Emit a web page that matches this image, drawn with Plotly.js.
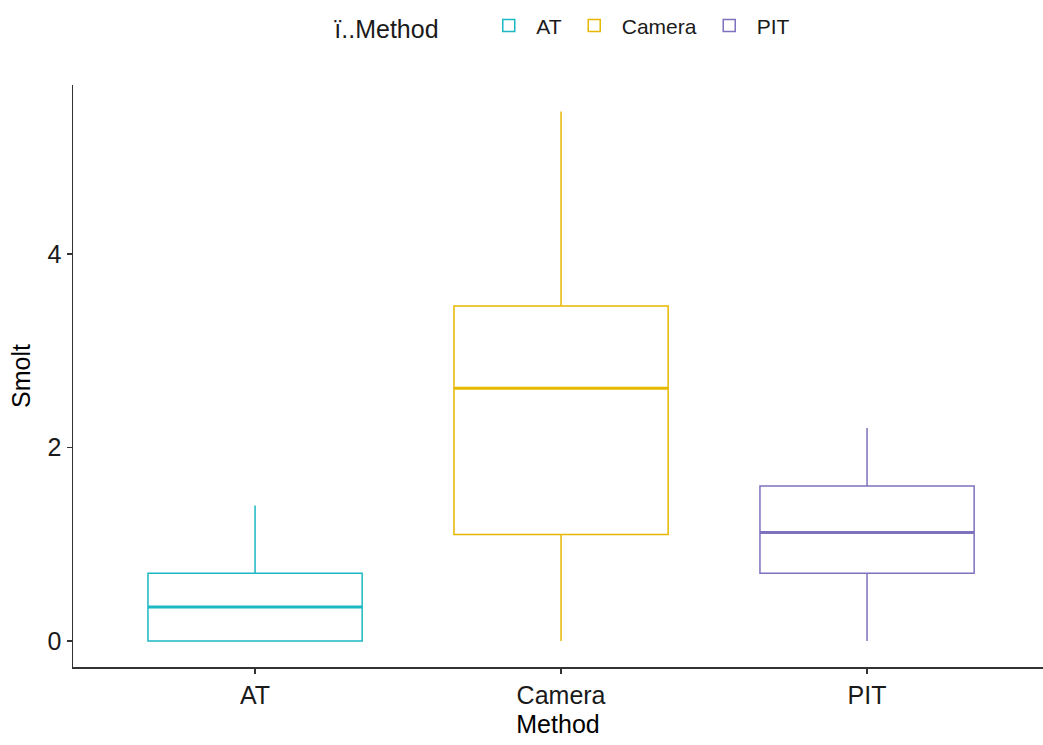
<!DOCTYPE html>
<html>
<head>
<meta charset="utf-8">
<script src="https://cdn.plot.ly/plotly-3.0.1.min.js"></script>
<style>html,body{margin:0;padding:0;background:#fff;}#chart{width:1043px;height:745px;}</style>
</head>
<body>
<div id="chart"></div>
<script>
const categories = ["AT", "Camera", "PIT"];
const colors = ["#1CB8C4", "#E7B800", "#7E72BE"];
const lowerFence = [0.0, 0.0, 0.0];
const q1 = [0.0, 1.1, 0.7];
const median = [0.35, 2.61, 1.12];
const q3 = [0.7, 3.46, 1.6];
const upperFence = [1.4, 5.47, 2.2];
const yTicks = [0, 2, 4];
const boxWidth = 0.7;

const traces = [];
categories.forEach((c, i) => {
  traces.push({
    type: "box",
    name: c,
    x: [i],
    q1: [q1[i]], median: [median[i]], q3: [q3[i]],
    lowerfence: [lowerFence[i]], upperfence: [upperFence[i]],
    width: boxWidth,
    whiskerwidth: 0,
    fillcolor: "rgba(255,255,255,0)",
    line: {color: colors[i], width: 1.5},
    boxpoints: false,
    hoverinfo: "skip",
    legendgroup: c
  });
  traces.push({
    type: "scatter",
    mode: "lines",
    x: [i - boxWidth / 2, i + boxWidth / 2],
    y: [median[i], median[i]],
    line: {color: colors[i], width: 3},
    showlegend: false,
    hoverinfo: "skip",
    legendgroup: c
  });
});

const layout = {
  width: 1043, height: 745,
  margin: {l: 73, r: 0, t: 85, b: 78},
  paper_bgcolor: "#fff", plot_bgcolor: "#fff",
  font: {family: "Liberation Sans, Arial, sans-serif", color: "#000"},
  showlegend: true,
  legend: {
    orientation: "h", x: 0.506, xanchor: "center", y: 1.1, yanchor: "middle",
    title: {text: "ï..Method     ", font: {size: 25, color: "#1a1a1a"}, side: "left"},
    font: {size: 21, color: "#1a1a1a"},
    itemwidth: 45,
    valign: "middle"
  },
  xaxis: {
    range: [-0.595, 2.575],
    tickvals: categories.map((c, i) => i),
    ticktext: categories,
    showgrid: false, zeroline: false,
    showline: true, linecolor: "#333", linewidth: 1.5,
    ticks: "outside", ticklen: 5, tickcolor: "#333", tickwidth: 1.5,
    tickfont: {size: 25, color: "#1a1a1a"},
    title: {text: "Method", font: {size: 25, color: "#000"}, standoff: 8}
  },
  yaxis: {
    range: [-0.27, 5.745],
    tickvals: yTicks,
    showgrid: false, zeroline: false,
    showline: true, linecolor: "#333", linewidth: 1.5,
    ticks: "outside", ticklen: 5, tickcolor: "#333", tickwidth: 1.5,
    tickfont: {size: 25, color: "#1a1a1a"},
    title: {text: "Smolt", font: {size: 25, color: "#000"}, standoff: 10}
  }
};

Plotly.newPlot("chart", traces, layout, {displayModeBar: false, staticPlot: true});
</script>
</body>
</html>
